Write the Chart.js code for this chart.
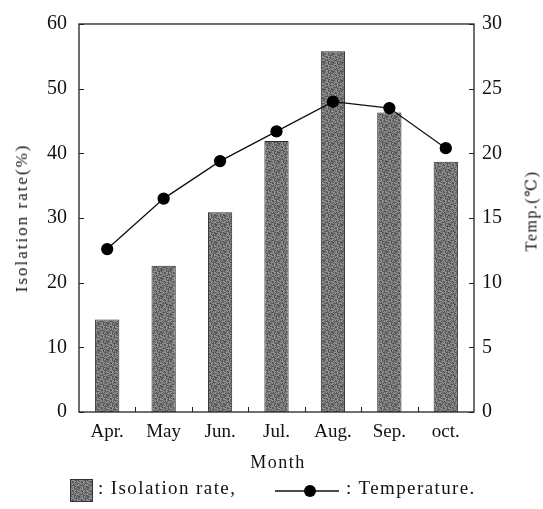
<!DOCTYPE html>
<html>
<head>
<meta charset="utf-8">
<script src="https://cdn.jsdelivr.net/npm/chart.js@4.4.0/dist/chart.umd.min.js"></script>
<style>
  body { margin: 0; background: #fff; font-family: "Liberation Serif", "DejaVu Serif", serif; color: #111; }
  #wrap { position: relative; width: 543px; height: 509px; }
  #box { position: absolute; left: 0; top: 0; width: 543px; height: 470px; }
  .lbl { position: absolute; white-space: nowrap; font-size: 16px; letter-spacing: 1.5px; }
  .rot { transform: translate(-50%, -50%) rotate(-90deg); }
  .ctr { transform: translate(-50%, -50%); }
  #legend { position: absolute; left: 0; top: 476px; width: 543px; height: 30px; font-size: 19px; letter-spacing: 1.4px; }
  #legend span { position: absolute; top: 1px; }
</style>
</head>
<body>
<div id="wrap">
  <div id="box"><canvas id="chart"></canvas></div>
  <div class="lbl rot" style="left:22px; top:218px; font-size:17px; letter-spacing:2px;">Isolation rate(%)</div>
  <div class="lbl rot" style="left:531px; top:211px;">Temp.(℃)</div>
  <div class="lbl ctr" style="left:278px; top:462px; font-size:18px;">Month</div>
  <div id="legend">
    <canvas id="swatch" width="23" height="23" style="position:absolute; left:70px; top:3px;"></canvas>
    <span style="left:98px;">: Isolation rate,</span>
    <svg width="70" height="20" style="position:absolute; left:273px; top:5px;">
      <line x1="2" y1="10" x2="66" y2="10" stroke="#111" stroke-width="1.3"/>
      <circle cx="37" cy="10" r="6" fill="#000"/>
    </svg>
    <span style="left:346px;">: Temperature.</span>
  </div>
</div>
<script>
// Données du graphique
const months = ['Apr.', 'May', 'Jun.', 'Jul.', 'Aug.', 'Sep.', 'oct.'];
const isolationRate = [14.3, 22.6, 30.9, 41.9, 55.8, 46.3, 38.7];
const temperature = [12.6, 16.5, 19.4, 21.7, 24.0, 23.5, 20.4];
const leftTicks = [0, 10, 20, 30, 40, 50, 60];
const rightTicks = [0, 5, 10, 15, 20, 25, 30];

// Texture grise pointillée des barres
function makePattern(size) {
    const c = document.createElement('canvas');
    c.width = size; c.height = size;
    const g = c.getContext('2d');
    const shades = ['#5a5a5a', '#828282', '#6c6c6c', '#979797', '#4e4e4e', '#8a8a8a'];
    for (let y = 0; y < size; y++) {
        for (let x = 0; x < size; x++) {
            g.fillStyle = shades[(x * 7 + y * 11 + (x * y) % 5) % shades.length];
            g.fillRect(x, y, 1, 1);
        }
    }
    return g.createPattern(c, 'repeat');
}
const barFill = makePattern(9);

// Échantillon de la légende
const sw = document.getElementById('swatch').getContext('2d');
sw.fillStyle = barFill;
sw.fillRect(0, 0, 23, 23);
sw.strokeStyle = '#333';
sw.strokeRect(0.5, 0.5, 22, 22);

// Cadre et graduations intérieures
const framePlugin = {
    id: 'frame',
    afterDatasetsDraw(chart) {
        const { ctx, chartArea: a, scales } = chart;
        ctx.save();
        ctx.strokeStyle = '#222';
        ctx.lineWidth = 1.3;
        ctx.strokeRect(a.left, a.top, a.right - a.left, a.bottom - a.top);
        ctx.lineWidth = 1;
        ctx.beginPath();
        leftTicks.forEach(v => {
            const y = Math.round(scales.y.getPixelForValue(v)) + 0.5;
            ctx.moveTo(a.left, y); ctx.lineTo(a.left + 5, y);
        });
        rightTicks.forEach(v => {
            const y = Math.round(scales.y1.getPixelForValue(v)) + 0.5;
            ctx.moveTo(a.right - 5, y); ctx.lineTo(a.right, y);
        });
        for (let i = 0; i < months.length - 1; i++) {
            const x = Math.round((scales.x.getPixelForValue(i) + scales.x.getPixelForValue(i + 1)) / 2) + 0.5;
            ctx.moveTo(x, a.bottom); ctx.lineTo(x, a.bottom - 5);
        }
        ctx.stroke();
        ctx.restore();
    }
};

const xFont = { family: '"Liberation Serif", serif', size: 19 };
const yFont = { family: '"Liberation Serif", serif', size: 20 };

new Chart(document.getElementById('chart').getContext('2d'), {
    type: 'bar',
    data: {
        labels: months,
        datasets: [{
            type: 'line',
            label: 'Temperature',
            data: temperature,
            yAxisID: 'y1',
            borderColor: '#111',
            borderWidth: 1.3,
            pointRadius: 5.5,
            pointBackgroundColor: '#000',
            pointBorderColor: '#000',
            tension: 0,
            order: 0
        }, {
            label: 'Isolation rate',
            data: isolationRate,
            yAxisID: 'y',
            backgroundColor: barFill,
            borderColor: '#2a2a2a',
            borderWidth: 1,
            barPercentage: 0.43,
            categoryPercentage: 1,
            order: 1
        }]
    },
    options: {
        responsive: true,
        maintainAspectRatio: false,
        animation: false,
        layout: { padding: { top: 20 } },
        plugins: { legend: { display: false }, tooltip: { enabled: false } },
        scales: {
            x: {
                grid: { display: false, drawTicks: false },
                border: { display: false },
                ticks: { font: xFont, color: '#111', padding: 9 },
                afterFit(s) { s.height = 58; }
            },
            y: {
                position: 'left',
                min: 0, max: 60,
                grid: { display: false, drawTicks: false },
                border: { display: false },
                ticks: { stepSize: 10, font: yFont, color: '#111', padding: 12 },
                afterFit(s) { s.width = 79; }
            },
            y1: {
                position: 'right',
                min: 0, max: 30,
                grid: { display: false, drawTicks: false },
                border: { display: false },
                ticks: { stepSize: 5, font: yFont, color: '#111', padding: 8 },
                afterFit(s) { s.width = 69; }
            }
        }
    },
    plugins: [framePlugin]
});
</script>
</body>
</html>
